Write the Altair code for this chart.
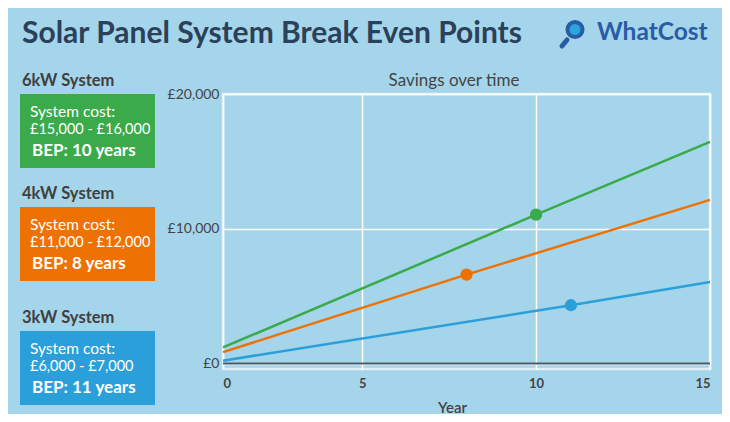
import altair as alt
import pandas as pd

# ---------------- data ----------------
systems = ["6kW System", "4kW System", "3kW System"]
cost_lines = ["£15,000 - £16,000", "£11,000 - £12,000", "£6,000 - £7,000"]
bep_labels = ["BEP: 10 years", "BEP: 8 years", "BEP: 11 years"]
series_colors = ["#3aaa4a", "#ee7203", "#2b9fd9"]

years_6kw = [1, 10, 15]
savings_6kw = [1200, 11050, 16450]
years_4kw = [1, 8, 15]
savings_4kw = [850, 6600, 12150]
years_3kw = [1, 11, 15]
savings_3kw = [220, 4330, 6050]

bep_years = [10, 8, 11]
bep_savings = [11050, 6600, 4330]

x_tick_values = [1, 5, 10, 15]
x_tick_labels = ["0", "5", "10", "15"]
y_tick_values = [0, 10000, 20000]

# ---------------- tables ----------------
rows = []
for name, ys, vs in zip(systems, [years_6kw, years_4kw, years_3kw],
                        [savings_6kw, savings_4kw, savings_3kw]):
    for yv, sv in zip(ys, vs):
        rows.append({"system": name, "year": yv, "savings": sv})
lines_df = pd.DataFrame(rows)
bep_df = pd.DataFrame({"system": systems, "year": bep_years, "savings": bep_savings})
one = pd.DataFrame({"k": [0]})

BG = "#a4d5ea"
FONT = "Lato"
W, H = 487, 275

label_map = "{" + ",".join(f"'{v}':'{l}'" for v, l in zip(x_tick_values, x_tick_labels)) + "}"

color_scale = alt.Scale(domain=systems, range=series_colors)
x_enc = alt.X(
    "year:Q",
    scale=alt.Scale(domain=[1, 15], nice=False, zero=False),
    axis=alt.Axis(
        values=x_tick_values,
        labelExpr=f"{label_map}[datum.value + '']",
        title="Year",
        titleX=229, titleY=43, titleBaseline="alphabetic", titleAlign="center",
        titleFont=FONT, titleFontSize=15, titleFontWeight=600, titleColor="#444444",
        labelFont=FONT, labelFontSize=13, labelFontWeight="bold", labelColor="#444444",
        labelPadding=8, ticks=False, domain=False,
        grid=True, gridColor="white", gridWidth=1.5,
    ),
)
y_enc = alt.Y(
    "savings:Q",
    scale=alt.Scale(domain=[-400, 20000], nice=False, zero=False),
    axis=alt.Axis(
        values=y_tick_values,
        labelExpr="'£' + format(datum.value, ',')",
        title=None,
        labelFont=FONT, labelFontSize=14, labelColor="#444444",
        labelPadding=4, ticks=False, domain=False,
        grid=True, gridColor="white", gridWidth=1.5,
    ),
)

zero_rule = alt.Chart(one).mark_rule(color="#4e5c66", strokeWidth=2).encode(
    y=alt.datum(0, type="quantitative")
)

lines = alt.Chart(lines_df).mark_line(strokeWidth=2.5).encode(
    x=x_enc, y=y_enc,
    color=alt.Color("system:N", scale=color_scale, legend=None),
    detail="system:N",
)
dots = alt.Chart(bep_df).mark_circle(size=150, opacity=1).encode(
    x="year:Q", y="savings:Q",
    color=alt.Color("system:N", scale=color_scale, legend=None),
)


def txt(s, x, y, size, weight="normal", color="#444444", align="left"):
    return alt.Chart(one).mark_text(
        font=FONT, fontSize=size, fontWeight=weight, color=color,
        align=align, baseline="alphabetic",
    ).encode(x=alt.value(x), y=alt.value(y), text=alt.value(s))


layers = [zero_rule, lines, dots]

# plot-relative coordinates (plot origin at page 223, 94)
OX, OY = 223, 94
layers.append(txt("Solar Panel System Break Even Points", 22 - OX, 43 - OY, 30, "bold", "#2b4059"))
layers.append(txt("Savings over time", 454 - OX, 86 - OY, 17, "normal", "#444444", "center"))

# logo
layers.append(
    alt.Chart(one).mark_rule(color="#2a5ca6", strokeWidth=5, strokeCap="round").encode(
        x=alt.value(567 - OX), y=alt.value(40 - OY), x2=alt.value(562 - OX), y2=alt.value(46 - OY)
    )
)
layers.append(
    alt.Chart(one).mark_circle(size=227, color="#2ba3dd", stroke="#2a5ca6", strokeWidth=4, opacity=1).encode(
        x=alt.value(575 - OX), y=alt.value(29.5 - OY)
    )
)
layers.append(txt("WhatCost", 597 - OX, 39.5 - OY, 24.5, "bold", "#2a5ca6"))

box_tops = [94, 207, 331]
for i, name in enumerate(systems):
    top = box_tops[i]
    layers.append(txt(name, 22 - OX, top - 8 - OY, 16.5, "bold", "#404040"))
    layers.append(
        alt.Chart(one).mark_rect(color=series_colors[i], opacity=1).encode(
            x=alt.value(20 - OX), x2=alt.value(155 - OX),
            y=alt.value(top - OY), y2=alt.value(top + 74 - OY),
        )
    )
    layers.append(txt("System cost:", 30 - OX, top + 22.5 - OY, 15.5, "normal", "white"))
    layers.append(txt(cost_lines[i], 30 - OX, top + 40 - OY, 14.5, "normal", "white"))
    layers.append(txt(bep_labels[i], 32 - OX, top + 62 - OY, 17, "bold", "white"))

chart = alt.layer(*layers).properties(
    width=W, height=H,
    padding={"left": 215, "top": 86, "right": 12, "bottom": 45},
    autosize=alt.AutoSizeParams(type="none"),
    background=BG,
).configure_view(
    stroke="#dff0f8", strokeWidth=2.5
)

chart.save("out.html", embed_options={"renderer": "svg", "actions": False})
